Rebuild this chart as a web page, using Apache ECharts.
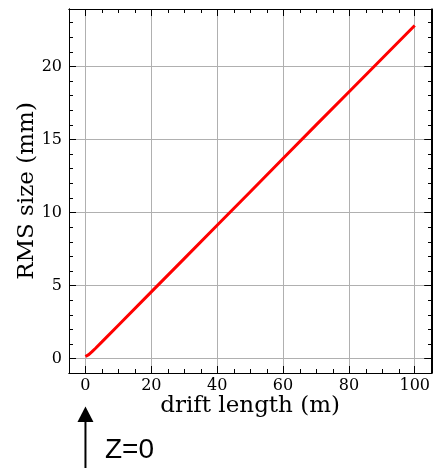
<!DOCTYPE html>
<html>
<head>
<meta charset="utf-8">
<script src="https://cdn.jsdelivr.net/npm/echarts@6/dist/echarts.min.js"></script>
<style>
html,body{margin:0;padding:0;background:#fff;}
#chart{width:433px;height:468px;}
</style>
</head>
<body>
<div id="chart"></div>
<script>
// Data
const driftLength = [0, 1, 2, 3, 5, 10, 20, 30, 40, 50, 60, 70, 80, 90, 100];
const rmsSize = [0.15, 0.28, 0.48, 0.70, 1.15, 2.29, 4.57, 6.85, 9.13, 11.41, 13.70, 15.98, 18.25, 20.53, 22.80];
const xMajorTicks = [0, 20, 40, 60, 80, 100];
const xMinorTicks = [5, 10, 15, 25, 30, 35, 45, 50, 55, 65, 70, 75, 85, 90, 95];
const yMajorTicks = [0, 5, 10, 15, 20];
const yMinorTicks = [1, 2, 3, 4, 6, 7, 8, 9, 11, 12, 13, 14, 16, 17, 18, 19, 21, 22, 23];
const xRange = [-5, 105];
const yRange = [-0.98, 23.93];
const xTitle = 'drift length (m)';
const yTitle = 'RMS size (mm)';
const annotationText = 'Z=0';
const annotationX = 0;

const serif = 'DejaVu Serif';
const chart = echarts.init(document.getElementById('chart'), null, {renderer: 'canvas'});

const gridBox = {left: 69, right: 1, top: 9, bottom: 95, containLabel: false};

function xAx(grid, pos, ticks, len, main) {
  return {
    type: 'value', gridIndex: grid, position: pos, min: xRange[0], max: xRange[1],
    name: main ? xTitle : '', nameLocation: 'middle', nameGap: 22, nameMoveOverlap: false,
    nameTextStyle: {fontFamily: serif, fontSize: 23, color: '#000'},
    axisLine: {show: true, onZero: false, lineStyle: {color: '#000', width: 1}},
    axisTick: {show: true, inside: true, length: len, customValues: ticks, lineStyle: {color: '#000', width: 1}},
    axisLabel: {show: !!main, customValues: ticks, margin: 5, fontFamily: serif, fontSize: 16, color: '#000'},
    splitLine: {show: !!main, lineStyle: {color: '#b0b0b0', width: 1}},
    minorTick: {show: false}, minorSplitLine: {show: false}
  };
}
function yAx(grid, pos, ticks, len, main) {
  return {
    type: 'value', gridIndex: grid, position: pos, min: yRange[0], max: yRange[1],
    name: main ? yTitle : '', nameLocation: 'middle', nameGap: 30, nameRotate: 90, nameMoveOverlap: false,
    nameTextStyle: {fontFamily: serif, fontSize: 23, color: '#000'},
    axisLine: {show: true, onZero: false, lineStyle: {color: '#000', width: 1}},
    axisTick: {show: true, inside: true, length: len, customValues: ticks, lineStyle: {color: '#000', width: 1}},
    axisLabel: {show: !!main, customValues: ticks, margin: 7, fontFamily: serif, fontSize: 16, color: '#000'},
    splitLine: {show: !!main, lineStyle: {color: '#b0b0b0', width: 1}},
    minorTick: {show: false}, minorSplitLine: {show: false}
  };
}

chart.setOption({
  animation: false,
  grid: [Object.assign({}, gridBox), Object.assign({}, gridBox)],
  xAxis: [
    xAx(0, 'bottom', xMajorTicks, 7, true),
    xAx(0, 'top', xMajorTicks, 7, false),
    xAx(1, 'bottom', xMinorTicks, 4, false),
    xAx(1, 'top', xMinorTicks, 4, false)
  ],
  yAxis: [
    yAx(0, 'left', yMajorTicks, 7, true),
    yAx(0, 'right', yMajorTicks, 7, false),
    yAx(1, 'left', yMinorTicks, 4, false),
    yAx(1, 'right', yMinorTicks, 4, false)
  ],
  series: [{
    type: 'line', xAxisIndex: 0, yAxisIndex: 0,
    data: driftLength.map((x, i) => [x, rmsSize[i]]),
    showSymbol: false, symbol: 'none', smooth: false,
    lineStyle: {color: '#ff0000', width: 3},
    z: 5
  }]
});

const ax = chart.convertToPixel({xAxisIndex: 0}, annotationX);
chart.setOption({
  graphic: [
    {type: 'line', shape: {x1: ax, y1: 468, x2: ax, y2: 420}, style: {stroke: '#000', lineWidth: 2}},
    {type: 'polygon', shape: {points: [[ax, 406.5], [ax - 8, 422], [ax + 8, 422]]}, style: {fill: '#000'}},
    {type: 'text', x: ax + 19.5, y: 450, style: {text: annotationText, fontFamily: 'Liberation Sans', fontSize: 28, fill: '#000', verticalAlign: 'middle', align: 'left'}}
  ]
});
</script>
</body>
</html>
